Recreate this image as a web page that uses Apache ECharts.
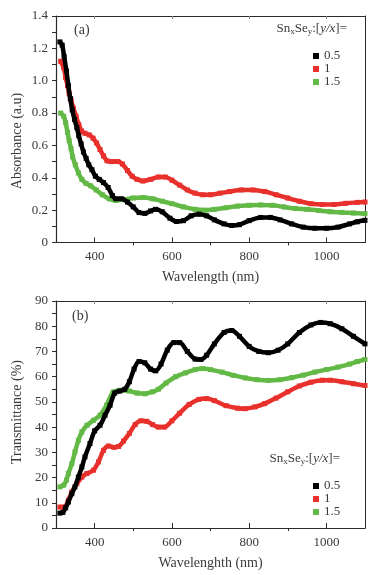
<!DOCTYPE html>
<html>
<head>
<meta charset="utf-8">
<script src="https://cdn.jsdelivr.net/npm/echarts@6/dist/echarts.min.js"></script>
<style>
  html, body { margin: 0; padding: 0; background: #fff; }
  #chart { width: 377px; height: 575px; }
</style>
</head>
<body>
<div id="chart"></div>
<script>
// panel (a): absorbance
const absWl05 = [310, 316, 321, 327, 332, 337, 342, 348, 354, 359, 365, 371, 378, 385, 393, 402, 412, 423, 435, 446, 455, 470, 485, 500, 515, 530, 545, 558, 575, 595, 612, 630, 650, 670, 690, 710, 735, 755, 775, 800, 830, 855, 880, 910, 940, 970, 1000, 1030, 1060, 1080, 1100];
const abs05 = [1.24, 1.22, 1.15, 1.06, 0.97, 0.89, 0.82, 0.76, 0.71, 0.66, 0.61, 0.56, 0.52, 0.48, 0.45, 0.41, 0.39, 0.37, 0.34, 0.29, 0.27, 0.27, 0.25, 0.22, 0.185, 0.18, 0.195, 0.205, 0.19, 0.15, 0.13, 0.135, 0.165, 0.175, 0.165, 0.14, 0.115, 0.105, 0.11, 0.135, 0.155, 0.155, 0.14, 0.115, 0.095, 0.088, 0.088, 0.095, 0.115, 0.128, 0.137];

const absWl1 = [312, 320, 325, 330, 334, 339, 345, 352, 359, 366, 375, 386, 396, 405, 414, 423, 432, 445, 460, 472, 485, 497, 510, 525, 545, 565, 583, 600, 620, 640, 660, 680, 700, 725, 750, 780, 810, 840, 870, 900, 930, 960, 990, 1020, 1050, 1080, 1100];
const abs1 = [1.12, 1.08, 1.02, 0.97, 0.92, 0.88, 0.83, 0.78, 0.73, 0.69, 0.675, 0.665, 0.645, 0.615, 0.575, 0.535, 0.505, 0.5, 0.5, 0.485, 0.445, 0.41, 0.39, 0.38, 0.39, 0.405, 0.405, 0.385, 0.355, 0.325, 0.305, 0.295, 0.295, 0.305, 0.315, 0.325, 0.325, 0.315, 0.295, 0.275, 0.255, 0.24, 0.235, 0.235, 0.242, 0.248, 0.25];

const absWl15 = [312, 320, 325, 330, 334, 339, 343, 350, 358, 367, 378, 390, 404, 420, 438, 455, 475, 500, 525, 550, 575, 600, 630, 660, 685, 710, 740, 770, 800, 830, 860, 890, 920, 950, 980, 1010, 1040, 1070, 1100];
const abs15 = [0.8, 0.78, 0.74, 0.68, 0.63, 0.58, 0.53, 0.48, 0.43, 0.39, 0.365, 0.35, 0.325, 0.295, 0.27, 0.26, 0.265, 0.275, 0.278, 0.27, 0.255, 0.24, 0.22, 0.205, 0.2, 0.205, 0.215, 0.225, 0.23, 0.232, 0.23, 0.22, 0.21, 0.205, 0.198, 0.19, 0.186, 0.182, 0.178];

// panel (b): transmittance
const trWl05 = [310, 318, 325, 332, 341, 349, 358, 367, 375, 388, 400, 414, 427, 440, 452, 465, 478, 490, 502, 515, 530, 545, 558, 572, 588, 605, 620, 640, 660, 675, 690, 710, 735, 755, 775, 800, 825, 850, 875, 900, 930, 960, 985, 1010, 1040, 1070, 1100];
const tr05 = [5.9, 6.2, 8.0, 10.3, 13.6, 16.3, 20.2, 24.2, 28.2, 33.5, 38.5, 40.7, 44.7, 48.7, 53.5, 54.3, 55, 58, 63, 66, 65.5, 63, 62.3, 65, 70.5, 73.5, 73.5, 70, 67, 66.8, 68.5, 73, 77.5, 78.3, 76, 72, 70, 69.5, 70.5, 73, 77.5, 80.5, 81.5, 81, 79, 76, 73];

const trWl1 = [310, 322, 332, 341, 354, 367, 380, 397, 410, 423, 436, 450, 462, 475, 490, 505, 520, 535, 550, 565, 580, 600, 620, 645, 670, 690, 710, 740, 770, 790, 815, 840, 870, 900, 930, 960, 990, 1010, 1040, 1070, 1100];
const tr1 = [8.3, 8.3, 11, 14.3, 17.6, 20.2, 21.6, 22.9, 26.2, 30.8, 32.5, 32, 32.3, 34.5, 37.5, 41, 42.5, 42.3, 41, 40, 40, 42.5, 45.5, 49, 51, 51.3, 50.5, 48.5, 47.5, 47.3, 48, 49.3, 51.5, 54, 56.3, 57.8, 58.6, 58.6, 58, 57.2, 56.5];

const trWl15 = [310, 320, 327, 332, 341, 349, 358, 367, 380, 397, 414, 431, 448, 466, 490, 510, 530, 550, 565, 585, 610, 635, 660, 680, 700, 730, 760, 790, 820, 850, 880, 910, 940, 970, 1000, 1030, 1060, 1080, 1100];
const tr15 = [16.3, 17, 19, 21.6, 25.5, 30.1, 34.8, 38.1, 40.7, 42.7, 44.7, 48.7, 53.9, 54.6, 54.3, 53.5, 53.2, 54, 55, 57.5, 60, 61.5, 62.8, 63.2, 62.8, 61.8, 60.5, 59.5, 58.8, 58.5, 58.8, 59.6, 60.6, 61.8, 62.8, 63.8, 65, 66, 66.8];

const seriesNames = ['0.5', '1', '1.5'];
const seriesColors = ['#000000', '#e8302c', '#63b946'];
const xMajorTicks = [400, 600, 800, 1000];
const xMinorTicks = [500, 700, 900];

const FONT = 'Liberation Serif';
const TXT = '#3a3a3a';
const AX = '#2b2b2b';

function pairs(xs, ys) {
  return xs.map((x, i) => [x, ys[i]]);
}

function mkSeries(idx, xIdx, yIdx, data) {
  return {
    name: seriesNames[idx],
    type: 'line',
    xAxisIndex: xIdx,
    yAxisIndex: yIdx,
    data: data,
    smooth: 0.3,
    symbol: 'rect',
    symbolSize: 5,
    showAllSymbol: true,
    lineStyle: { width: 4.5, color: seriesColors[idx] },
    itemStyle: { color: seriesColors[idx] },
    z: 5 - idx,
    animation: false,
  };
}

// main x axis, minor-tick overlay and the mirrored top axis for one grid
function xAxes(gi, name) {
  return [
    {
      gridIndex: gi, type: 'value', min: 300, max: 1100,
      name: name, nameLocation: 'middle', nameGap: 28,
      nameTextStyle: { fontFamily: FONT, fontSize: 14, color: TXT },
      axisLine: { lineStyle: { color: AX, width: 1.2 } },
      axisTick: { inside: true, length: 5, customValues: xMajorTicks, lineStyle: { color: AX } },
      axisLabel: {
        customValues: xMajorTicks, fontFamily: FONT, fontSize: 13, color: TXT, margin: 8,
        formatter: (v) => String(v),
      },
      splitLine: { show: false },
    },
    {
      gridIndex: gi, type: 'value', min: 300, max: 1100,
      axisLine: { show: false },
      axisTick: { inside: true, length: 3, customValues: xMinorTicks, lineStyle: { color: AX } },
      axisLabel: { show: false },
      splitLine: { show: false },
    },
    {
      gridIndex: gi, type: 'value', min: 300, max: 1100, position: 'top',
      axisLine: { lineStyle: { color: AX, width: 1 } },
      axisTick: { inside: true, length: 3, customValues: xMajorTicks, lineStyle: { color: '#888' } },
      axisLabel: { show: false },
      splitLine: { show: false },
    },
  ];
}

function yAxes(gi, max, interval, fmt) {
  return [
    {
      gridIndex: gi, type: 'value', min: 0, max: max, interval: interval,
      axisLine: { show: true, lineStyle: { color: AX, width: 1.2 } },
      axisTick: { show: true, length: 4, lineStyle: { color: AX } },
      minorTick: { show: true, splitNumber: 2, length: 4, lineStyle: { color: AX } },
      axisLabel: { fontFamily: FONT, fontSize: 13, color: TXT, margin: 8, formatter: fmt },
      splitLine: { show: false },
      minorSplitLine: { show: false },
    },
    {
      gridIndex: gi, type: 'value', min: 0, max: max, position: 'right',
      axisLine: { show: true, lineStyle: { color: AX, width: 1 } },
      axisTick: { show: false },
      axisLabel: { show: false },
      splitLine: { show: false },
    },
  ];
}

function yName(text, y) {
  return {
    type: 'text', x: 17, y: y, rotation: Math.PI / 2,
    style: { text: text, fontFamily: FONT, fontSize: 14, fill: TXT, align: 'center', verticalAlign: 'middle' },
  };
}

function legendTitle(right, top) {
  return {
    type: 'text', right: right, top: top,
    style: {
      text: '{a|Sn}{b|x}{a|Se}{b|y}{a|:[}{c|y/x}{a|]=}',
      rich: {
        a: { fontFamily: FONT, fontSize: 13, fill: TXT },
        b: { fontFamily: FONT, fontSize: 9, fill: TXT, padding: [7, 0, 0, 0] },
        c: { fontFamily: FONT, fontSize: 13, fill: TXT, fontStyle: 'italic' },
      },
    },
  };
}

function legendBox(top) {
  return {
    data: seriesNames, left: 308, top: top, orient: 'vertical',
    icon: 'rect', itemWidth: 6, itemHeight: 6, itemGap: 0,
    textStyle: { fontFamily: FONT, fontSize: 13, color: TXT },
  };
}

const option = {
  backgroundColor: '#fff',
  animation: false,
  grid: [
    { left: 56, top: 16, width: 309, height: 226.5 },
    { left: 56, top: 301, width: 309, height: 227 },
  ],
  xAxis: [...xAxes(0, 'Wavelength (nm)'), ...xAxes(1, 'Wavelenghth (nm)')],
  yAxis: [
    ...yAxes(0, 1.4, 0.2, (v) => (v === 0 ? '0' : v.toFixed(1))),
    ...yAxes(1, 90, 10, (v) => String(v)),
  ],
  legend: [legendBox(44.5), legendBox(474.5)],
  graphic: [
    yName('Absorbance (a.u)', 141),
    yName('Transmittance (%)', 412),
    { type: 'text', left: 74, top: 23, style: { text: '(a)', fontFamily: FONT, fontSize: 14, fill: TXT } },
    { type: 'text', left: 72, top: 309, style: { text: '(b)', fontFamily: FONT, fontSize: 14, fill: TXT } },
    legendTitle(30, 22),
    legendTitle(37, 452),
  ],
  series: [
    mkSeries(2, 0, 0, pairs(absWl15, abs15)),
    mkSeries(1, 0, 0, pairs(absWl1, abs1)),
    mkSeries(0, 0, 0, pairs(absWl05, abs05)),
    mkSeries(2, 3, 2, pairs(trWl15, tr15)),
    mkSeries(1, 3, 2, pairs(trWl1, tr1)),
    mkSeries(0, 3, 2, pairs(trWl05, tr05)),
  ],
};

const myChart = echarts.init(document.getElementById('chart'));
myChart.setOption(option);
window.addEventListener('resize', () => {
  myChart.resize();
});
</script>
</body>
</html>
